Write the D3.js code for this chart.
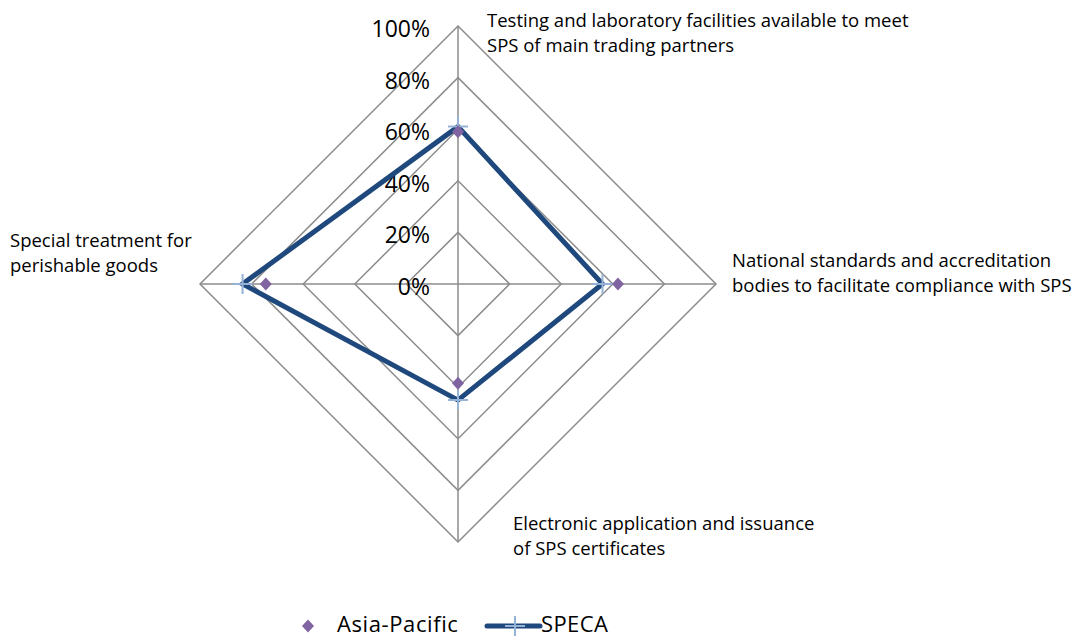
<!DOCTYPE html>
<html>
<head>
<meta charset="utf-8">
<script src="https://cdn.jsdelivr.net/npm/d3@7"></script>
<style>
body { margin: 0; background: #fff; }
text { font-family: "Open Sans", "Liberation Sans", sans-serif; fill: #000; }
</style>
</head>
<body>
<div id="chart"></div>
<script>
var categories = [
    ["Testing and laboratory facilities available to meet", "SPS of main trading partners"],
    ["National standards and accreditation", "bodies to facilitate compliance with SPS"],
    ["Electronic application and issuance", "of SPS certificates"],
    ["Special treatment for", "perishable goods"]
]
var asiaPacific = [0.59, 0.62, 0.385, 0.745]
var speca = [0.61, 0.56, 0.45, 0.835]
var ticks = [0, 0.2, 0.4, 0.6, 0.8, 1]

var width = 1085
var height = 640
var cx = 458, cy = 284
var svg = d3.select("#chart").append("svg").attr("width", width).attr("height", height)

var r = d3.scaleLinear().domain([0, 1]).range([0, 258])
var angle = d3.scaleLinear().domain([0, categories.length]).range([0, 2 * Math.PI])

function pt(i, v) {
    var a = angle(i)
    return [cx + Math.sin(a) * r(v), cy - Math.cos(a) * r(v)]
}

var g = svg.append("g")

// grid rings
ticks.slice(1).forEach(function(t) {
    var pts = categories.map(function(c, i) { return pt(i, t) })
    g.append("path")
        .attr("d", d3.line()(pts) + "Z")
        .attr("fill", "none")
        .attr("stroke", "#8c8c8c")
        .attr("stroke-width", 1.5)
})

// spokes
categories.forEach(function(c, i) {
    var p = pt(i, 1)
    g.append("line").attr("x1", cx).attr("y1", cy).attr("x2", p[0]).attr("y2", p[1])
        .attr("stroke", "#8c8c8c").attr("stroke-width", 1.5)
})

// tick labels
g.selectAll(".tick").data(ticks).enter().append("text")
    .attr("class", "tick")
    .attr("x", 430)
    .attr("y", function(d) { return cy - r(d) + 3 })
    .attr("dy", "0.35em")
    .attr("text-anchor", "end")
    .style("font-size", "23px")
    .text(function(d) { return d3.format(".0%")(d) })

// category labels
var labelPos = [[487, 21], [732, 261], [513, 524], [10, 241]]
categories.forEach(function(c, i) {
    var t = g.append("text").style("font-size", "18.5px")
    c.forEach(function(line, j) {
        t.append("tspan").attr("x", labelPos[i][0]).attr("y", labelPos[i][1] + j * 25)
            .attr("dy", "0.35em").text(line)
    })
})

// SPECA line
var specaPts = speca.map(function(v, i) { return pt(i, v) })
g.append("path")
    .attr("d", d3.line()(specaPts) + "Z")
    .attr("fill", "none")
    .attr("stroke", "#1f497d")
    .attr("stroke-width", 5)
    .attr("stroke-linejoin", "miter")

function drawCross(sel, x, y) {
    sel.append("path")
        .attr("d", "M" + (x - 10) + "," + y + "H" + (x + 10) + "M" + x + "," + (y - 10) + "V" + (y + 10))
        .attr("stroke", "#95b3d7").attr("stroke-width", 2)
}
specaPts.forEach(function(p) { drawCross(g, p[0], p[1]) })

// Asia-Pacific markers
function diamondPath(w, h) {
    return "M0," + (-h / 2) + "L" + (w / 2) + ",0L0," + (h / 2) + "L" + (-w / 2) + ",0Z"
}
g.selectAll(".ap").data(asiaPacific).enter().append("path")
    .attr("class", "ap")
    .attr("d", diamondPath(12, 13))
    .attr("transform", function(d, i) { var p = pt(i, d); return "translate(" + p[0] + "," + p[1] + ")" })
    .attr("fill", "#8064a2")

// legend
var legend = svg.append("g")
legend.append("path").attr("d", diamondPath(12, 13))
    .attr("transform", "translate(308,626)").attr("fill", "#8064a2")
legend.append("text").attr("x", 337).attr("y", 632)
    .style("font-size", "22px").style("letter-spacing", "0.6px").text("Asia-Pacific")
legend.append("line").attr("x1", 487).attr("x2", 540).attr("y1", 626).attr("y2", 626)
    .attr("stroke", "#1f497d").attr("stroke-width", 5).attr("stroke-linecap", "round")
drawCross(legend, 515, 626)
legend.append("text").attr("x", 541).attr("y", 632)
    .style("font-size", "22px").style("letter-spacing", "0.4px").text("SPECA")
</script>
</body>
</html>
